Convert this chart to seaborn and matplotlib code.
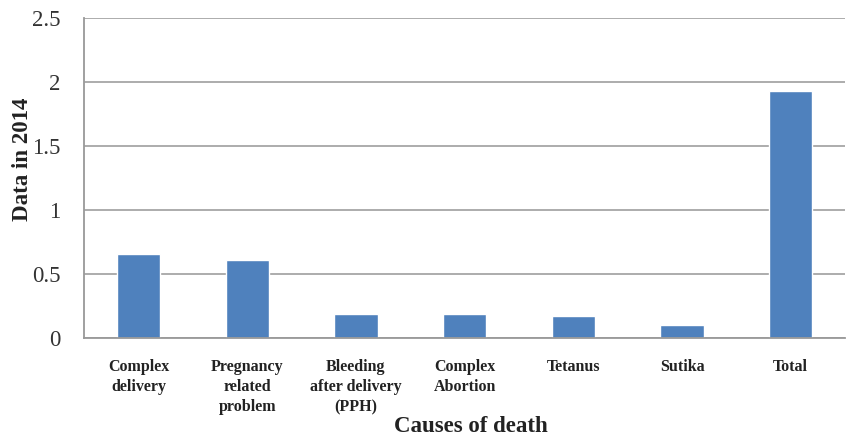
import matplotlib
matplotlib.use("Agg")
import matplotlib.pyplot as plt
import seaborn as sns
import pandas as pd

# data
causes = ["Complex\ndelivery", "Pregnancy\nrelated\nproblem", "Bleeding\nafter delivery\n(PPH)",
          "Complex\nAbortion", "Tetanus", "Sutika", "Total"]
values = [0.66, 0.61, 0.19, 0.19, 0.17, 0.10, 1.93]
y_ticks = [0, 0.5, 1, 1.5, 2, 2.5]
y_tick_labels = ["0", "0.5", "1", "1.5", "2", "2.5"]

df = pd.DataFrame({"cause": causes, "value": values})

sns.set_style("white")
plt.rcParams['font.family'] = ['Liberation Serif', 'DejaVu Serif']

fig, ax = plt.subplots(figsize=(8.51, 4.36), dpi=100)
fig.subplots_adjust(left=0.099, right=0.993, top=0.958, bottom=0.225)

sns.barplot(data=df, x="cause", y="value", color="#4F81BD", saturation=1, width=0.4, ax=ax)

ax.set_ylim(0, 2.5)
ax.set_xlim(-0.5, len(causes) - 0.5)
ax.set_yticks(y_ticks)
ax.set_yticklabels(y_tick_labels, fontsize=16.5, color="#333333")
ax.yaxis.grid(True, color="#a6a6a6", linewidth=1.3)
ax.set_axisbelow(True)

# x tick labels in the category centres, tick marks between categories
ax.set_xticks(range(len(causes)))
ax.set_xticklabels(causes, fontsize=11.5, fontweight="bold", color="#222222", linespacing=1.35)
ax.set_xticks([i + 0.5 for i in range(len(causes) - 1)], minor=True)
ax.tick_params(axis="x", which="major", length=0, pad=15)
ax.tick_params(axis="x", which="minor", length=5, color="#888888", width=1.2, direction="out")
ax.tick_params(axis="y", length=5, color="#888888", width=1.2, direction="out", pad=12)

for s in ["top", "right"]:
    ax.spines[s].set_visible(False)
for s in ["left", "bottom"]:
    ax.spines[s].set_color("#999999")
    ax.spines[s].set_linewidth(1.3)

ax.set_ylabel("Data in 2014", fontsize=16.5, fontweight="bold", color="#222222")
ax.yaxis.set_label_coords(-0.068, 0.56)
ax.set_xlabel("Causes of death", fontsize=16.5, fontweight="bold", color="#222222")
ax.xaxis.set_label_coords(0.508, -0.245)

plt.savefig("out.png", dpi=100)
